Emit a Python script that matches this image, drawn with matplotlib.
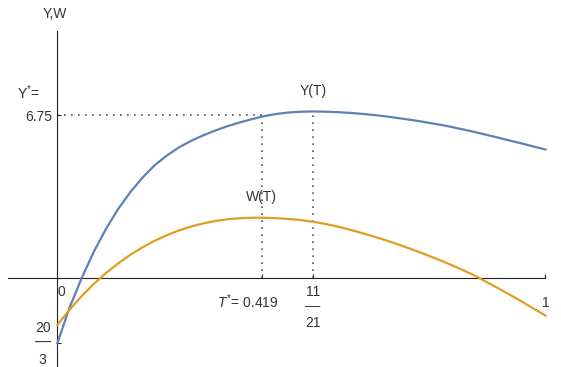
import matplotlib.pyplot as plt
from matplotlib.transforms import ScaledTranslation

plt.rcParams['font.family'] = ['Liberation Sans', 'DejaVu Sans']
plt.rcParams['mathtext.fontset'] = 'custom'
plt.rcParams['mathtext.rm'] = 'Liberation Sans'
plt.rcParams['mathtext.it'] = 'Liberation Sans:italic'

# valeurs (pas de 0.025)
T = [i * 0.025 for i in range(41)]
Y = [-2.71, -1.23, 0.00, 1.10, 2.05, 2.875, 3.575, 4.175, 4.69, 5.09,
     5.43, 5.70, 5.93, 6.13, 6.31, 6.46, 6.60, 6.72, 6.81, 6.87,
     6.90, 6.91, 6.90, 6.88, 6.85, 6.81, 6.76, 6.70, 6.63, 6.56,
     6.48, 6.39, 6.30, 6.19, 6.08, 5.96, 5.84, 5.71, 5.59, 5.46, 5.33]
W = [-1.95, -1.32, -0.75, -0.24, 0.21, 0.61, 0.97, 1.28, 1.55, 1.78,
     1.98, 2.14, 2.27, 2.37, 2.44, 2.48, 2.50, 2.50, 2.48, 2.45,
     2.40, 2.33, 2.24, 2.13, 2.00, 1.86, 1.71, 1.55, 1.38, 1.20,
     1.01, 0.81, 0.60, 0.38, 0.15, -0.12, -0.39, -0.67, -0.96, -1.26, -1.56]

t_star = 0.419
t_peak = 11 / 21
y_star = 6.75
y_low = -2.71   # tick "20/3"

fig = plt.figure(figsize=(5.61, 3.67), dpi=100)
ax = fig.add_axes([0, 0, 1, 1])
ax.set_xlim(-0.1174, 1.0318)
ax.set_ylim(-3.693, 11.535)

ax.plot(T, Y, color='#5E81B5', lw=1.6, zorder=3)
ax.plot(T, W, color='#E19C24', lw=1.6, zorder=3)

dots = dict(color='#555555', lw=1.2, linestyle=(0, (1, 3.2)), zorder=2)
ax.plot([0, t_star], [y_star, y_star], **dots)
ax.plot([t_star, t_star], [0, y_star], **dots)
ax.plot([t_peak, t_peak], [0, max(Y)], **dots)

# axes a la Mathematica
for s in ['top', 'right']:
    ax.spines[s].set_visible(False)
ax.spines['left'].set_position(('data', 0))
ax.spines['bottom'].set_position(('data', 0))
ax.spines['left'].set_bounds(-3.693, 10.26)
ax.spines['bottom'].set_bounds(-0.1, 1.0)
for s in ['left', 'bottom']:
    ax.spines[s].set_linewidth(0.8)
    ax.spines[s].set_color('#222222')
ax.set_xticks([t_star, t_peak, 1.0])
ax.set_yticks([y_low, y_star])
ax.tick_params(direction='in', length=3, width=0.8, color='#222222',
               labelbottom=False, labelleft=False)

txt = '#333333'
fs = 10


def lab(x, y, s, dx, dy, ha='center', size=fs):
    tr = ax.transData + ScaledTranslation(dx / 72, dy / 72, fig.dpi_scale_trans)
    ax.text(x, y, s, transform=tr, ha=ha, va='center', fontsize=size, color=txt)


lab(0, 0, '0', 3.2, -10.3)
lab(t_star, 0, r'$T^{*}$= 0.419', -10, -17.3)
lab(t_peak, 0, '11', 0, -9.9)
lab(t_peak, 0, '\u2014', 0, -20.3, size=11)
lab(t_peak, 0, '21', 0, -32.6)
lab(1.0, 0, '1', 0.5, -18)
lab(0, y_low, '20', -10.5, 10.8)
lab(0, y_low, '\u2014', -10.5, 0.4, size=11.5)
lab(0, y_low, '3', -10.5, -12)
lab(0, y_star, '6.75', -4, -1.2, ha='right')
lab(0, y_star, r'$\mathregular{Y^{*}}$=', -21, 16)
lab(0, 10.26, 'Y,W', -1.6, 12)
lab(t_peak, max(Y), 'Y(T)', 0, 14.4)
lab(t_star, max(W), 'W(T)', 0, 15)

fig.savefig('out.png', dpi=100)
